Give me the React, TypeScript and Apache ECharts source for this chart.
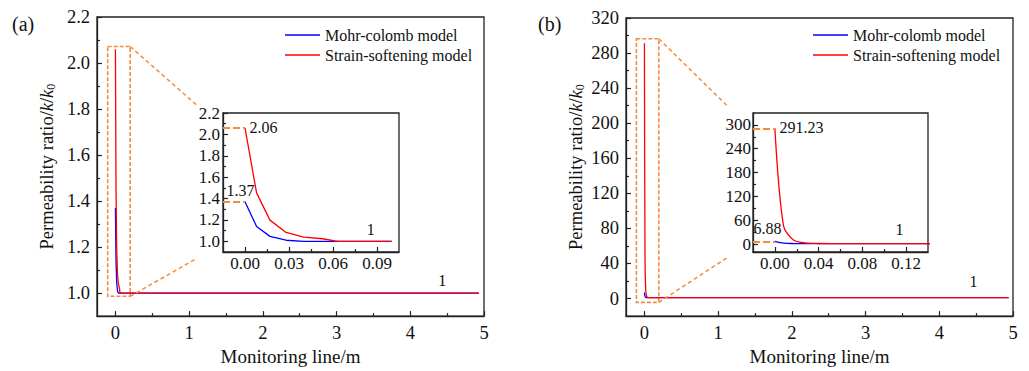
import React, { useEffect, useRef } from "react";
import * as echarts from "echarts";

// ---------------- data ----------------
const SERIES_NAMES = ["Mohr-colomb model", "Strain-softening model"];

const distA = [0, 0.0079, 0.017, 0.028, 0.04, 0.053, 0.063, 0.1, 4.93];
const mohrA = [1.37, 1.138, 1.046, 1.01, 1.0, 1.0, 1.0, 1.0, 1.0];
const softA = [2.06, 1.453, 1.198, 1.083, 1.04, 1.024, 1.0, 1.0, 1.0];

const distB = [0, 0.0079, 0.017, 0.028, 0.04, 0.053, 0.063, 0.1, 4.94];
const mohrB = [6.88, 2.4, 1.3, 1.05, 1.0, 1.0, 1.0, 1.0, 1.0];
const softB = [291.23, 46, 10, 3, 1.4, 1.05, 1.0, 1.0, 1.0];

const insetAMaxDist = 0.1;

// tick values
const mainAYTicks = [1.0, 1.2, 1.4, 1.6, 1.8, 2.0, 2.2];
const mainAYMinor = [1.1, 1.3, 1.5, 1.7, 1.9, 2.1];
const mainXTicks = [0, 1, 2, 3, 4, 5];
const mainXMinor = [0.5, 1.5, 2.5, 3.5, 4.5];
const insetAXTicks = [0, 0.03, 0.06, 0.09];
const insetAXMinor = [0.015, 0.045, 0.075];
const insetAYTicks = [1.0, 1.2, 1.4, 1.6, 1.8, 2.0, 2.2];
const insetAYMinor = [1.1, 1.3, 1.5, 1.7, 1.9, 2.1];
const mainBYTicks = [0, 40, 80, 120, 160, 200, 240, 280, 320];
const mainBYMinor = [20, 60, 100, 140, 180, 220, 260, 300];
const insetBXTicks = [0, 0.04, 0.08, 0.12];
const insetBXMinor = [0.02, 0.06, 0.1];
const insetBYTicks = [0, 60, 120, 180, 240, 300];
const insetBYMinor = [30, 90, 150, 210, 270];

// annotations (data coordinates)
const zoomRectA = [[-0.105, 2.072], [0.2, 0.986]];
const zoomLinksA = [[[0.2, 2.072], [1.11, 1.815]], [[0.2, 0.986], [1.11, 1.152]]];
const zoomRectB = [[-0.109, 296.3], [0.195, -4.4]];
const zoomLinksB = [[[0.195, 296.3], [1.116, 220.4]], [[0.195, -4.4], [1.116, 46.3]]];
const oneLabelMainA = [4.44, 1.052];
const oneLabelMainB = [4.47, 19.3];
const oneLabelInsetA = [0.086, 1.11];
const oneLabelInsetB = [0.1145, 36];

const FONT = "Liberation Serif";
const ORANGE = "#f28b3d";
const AXIS = "#222";
const TXT = "#111";
const BLUE = "#0000ff";
const RED = "#ff0000";

const pairs = (xs: number[], ys: number[], maxX?: number) =>
  xs.map((x, i) => [x, ys[i]]).filter((p) => maxX === undefined || p[0] <= maxX + 1e-9);

function axisPair(
  dim: "x" | "y",
  grid: number,
  min: number,
  max: number,
  majors: number[],
  minors: number[],
  fmt: (v: number) => string,
  fontSize: number,
  margin: number,
  extra: any = {}
) {
  const base = {
    type: "value",
    gridIndex: grid,
    min,
    max,
    position: dim === "x" ? "bottom" : "left",
    splitLine: { show: false },
  };
  const major = {
    ...base,
    axisLine: { show: true, onZero: false, lineStyle: { color: AXIS, width: 1.3 } },
    axisTick: { show: true, inside: true, length: 5, customValues: majors, lineStyle: { color: AXIS, width: 1.2 } },
    axisLabel: {
      customValues: majors,
      formatter: fmt,
      fontSize,
      fontFamily: FONT,
      color: TXT,
      margin,
    },
    ...extra,
  };
  const minor = {
    ...base,
    axisLine: { show: false, onZero: false },
    axisTick: { show: true, inside: true, length: 3, customValues: minors, lineStyle: { color: AXIS, width: 1.2 } },
    axisLabel: { show: false },
  };
  return [major, minor];
}

const yName = {
  name: "Permeability ratio/{i|k}/{i|k}{s|0}",
  nameLocation: "middle",
  nameRotate: 90,
  nameGap: 40,
  nameTextStyle: {
    fontSize: 18.5,
    fontFamily: FONT,
    color: TXT,
    rich: {
      i: { fontStyle: "italic", fontSize: 18.5, fontFamily: FONT, color: TXT },
      s: { fontSize: 12, fontFamily: FONT, color: TXT, padding: [9, 0, 0, 0] },
    },
  },
};
const xName = {
  name: "Monitoring line/m",
  nameLocation: "middle",
  nameGap: 27,
  nameTextStyle: { fontSize: 19, fontFamily: FONT, color: TXT },
};

const f0 = (v: number) => String(Math.round(v));
const f1 = (v: number) => v.toFixed(1);
const f2 = (v: number) => v.toFixed(2);

const xAxes = [
  ...axisPair("x", 0, -0.25, 5, mainXTicks, mainXMinor, f0, 18.5, 7, xName),
  ...axisPair("x", 1, -0.015, 0.105, insetAXTicks, insetAXMinor, f2, 17, 3),
  ...axisPair("x", 2, -0.25, 5, mainXTicks, mainXMinor, f0, 18.5, 7, xName),
  ...axisPair("x", 3, -0.02, 0.14, insetBXTicks, insetBXMinor, f2, 17, 3),
];
const yAxes = [
  ...axisPair("y", 0, 0.9, 2.2, mainAYTicks, mainAYMinor, f1, 18.5, 7, yName),
  ...axisPair("y", 1, 0.9, 2.2, insetAYTicks, insetAYMinor, f1, 17, 3),
  ...axisPair("y", 2, -20, 320, mainBYTicks, mainBYMinor, f0, 18.5, 7, yName),
  ...axisPair("y", 3, -20, 330, insetBYTicks, insetBYMinor, f0, 17, 2),
];

const dashLine = (segs: number[][][], dash: number[], width: number) => ({
  silent: true,
  symbol: ["none", "none"],
  label: { show: false },
  lineStyle: { color: ORANGE, type: dash, width },
  emphasis: { disabled: true },
  data: segs.map((s) => [{ coord: s[0] }, { coord: s[1] }]),
});

const rectArea = (r: number[][]) => ({
  silent: true,
  itemStyle: { color: "transparent", borderColor: ORANGE, borderWidth: 1.6, borderType: [4, 2] },
  label: { show: false },
  data: [[{ coord: r[0] }, { coord: r[1] }]],
});

const textPoint = (coord: number[], text: string, label: any) => ({
  symbol: "circle",
  symbolSize: 1,
  itemStyle: { color: "transparent" },
  coord,
  label: {
    show: true,
    formatter: text,
    fontSize: 16,
    fontFamily: FONT,
    color: TXT,
    ...label,
  },
});

const markPts = (items: any[]) => ({ silent: true, data: items });

const lineSeries = (name: string, color: string, data: number[][], axis: number, extra: any = {}) => ({
  type: "line",
  name,
  data,
  xAxisIndex: axis,
  yAxisIndex: axis,
  symbol: "none",
  showSymbol: false,
  lineStyle: { color, width: 1.3 },
  itemStyle: { color },
  ...extra,
});

const centered = { position: [0, 0], align: "center", verticalAlign: "middle" };

const series = [
  // (a) main
  lineSeries(SERIES_NAMES[0], BLUE, pairs(distA, mohrA), 0),
  lineSeries(SERIES_NAMES[1], RED, pairs(distA, softA), 0, {
    markArea: rectArea(zoomRectA),
    markLine: dashLine(zoomLinksA, [4, 3], 1.5),
    markPoint: markPts([textPoint(oneLabelMainA, "1", centered)]),
  }),
  // (a) inset
  lineSeries(SERIES_NAMES[0], BLUE, pairs(distA, mohrA, insetAMaxDist), 2, {
    markLine: dashLine([[[-0.015, mohrA[0]], [distA[0], mohrA[0]]]], [7, 3], 2),
    markPoint: markPts([
      textPoint([distA[0], mohrA[0]], String(mohrA[0]), { position: [-4, -11], align: "center", verticalAlign: "middle" }),
    ]),
  }),
  lineSeries(SERIES_NAMES[1], RED, pairs(distA, softA, insetAMaxDist), 2, {
    markLine: dashLine([[[-0.015, softA[0]], [distA[0], softA[0]]]], [7, 3], 2),
    markPoint: markPts([
      textPoint([distA[0], softA[0]], String(softA[0]), { position: [5, 0], align: "left", verticalAlign: "middle" }),
      textPoint(oneLabelInsetA, "1", centered),
    ]),
  }),
  // (b) main
  lineSeries(SERIES_NAMES[0], BLUE, pairs(distB, mohrB), 4, { smooth: 0.3 }),
  lineSeries(SERIES_NAMES[1], RED, pairs(distB, softB), 4, {
    smooth: 0.3,
    markArea: rectArea(zoomRectB),
    markLine: dashLine(zoomLinksB, [4, 3], 1.5),
    markPoint: markPts([textPoint(oneLabelMainB, "1", centered)]),
  }),
  // (b) inset
  lineSeries(SERIES_NAMES[0], BLUE, pairs(distB, mohrB), 6, {
    smooth: 0.3,
    markLine: dashLine([[[-0.02, mohrB[0]], [distB[0], mohrB[0]]]], [7, 3], 2),
    markPoint: markPts([
      textPoint([distB[0], mohrB[0]], String(mohrB[0]), { position: [-7, -12], align: "center", verticalAlign: "middle" }),
    ]),
  }),
  lineSeries(SERIES_NAMES[1], RED, pairs(distB, softB), 6, {
    smooth: 0.3,
    markLine: dashLine([[[-0.02, softB[0]], [distB[0], softB[0]]]], [7, 3], 2),
    markPoint: markPts([
      textPoint([distB[0], softB[0]], String(softB[0]), { position: [5, 0], align: "left", verticalAlign: "middle" }),
      textPoint(oneLabelInsetB, "1", centered),
    ]),
  }),
];

const gridStyle = { show: true, borderColor: AXIS, borderWidth: 1.3, backgroundColor: "transparent" };

const legendBase = {
  orient: "vertical",
  top: 22,
  itemWidth: 35,
  itemHeight: 1.5,
  itemGap: 4,
  icon: "rect",
  data: SERIES_NAMES.map((n) => ({ name: n, icon: "rect" })),
  textStyle: { fontSize: 16, fontFamily: FONT, color: TXT, lineHeight: 16 },
};

const option = {
  animation: false,
  backgroundColor: "#fff",
  textStyle: { fontFamily: FONT },
  grid: [
    { ...gridStyle, left: 97, top: 17, width: 387, height: 308 },
    { ...gridStyle, left: 223, top: 113, width: 176, height: 139 },
    { ...gridStyle, left: 626, top: 18, width: 387, height: 307 },
    { ...gridStyle, left: 753, top: 113, width: 175, height: 139 },
  ],
  legend: [
    { ...legendBase, left: 280 },
    { ...legendBase, left: 808 },
  ],
  xAxis: xAxes,
  yAxis: yAxes,
  series,
  graphic: [
    { type: "text", left: 12, top: 14, style: { text: "(a)", fontSize: 20, fontFamily: FONT, fill: TXT } },
    { type: "text", left: 538, top: 14, style: { text: "(b)", fontSize: 20, fontFamily: FONT, fill: TXT } },
  ],
};

export default function App() {
  const ref = useRef<HTMLDivElement>(null);
  useEffect(() => {
    const chart = echarts.init(ref.current as HTMLDivElement, null, { renderer: "svg" });
    chart.setOption(option as any);
    return () => chart.dispose();
  }, []);
  return (
    <div
      ref={ref}
      style={{ position: "absolute", left: 0, top: 0, width: 1029, height: 371, background: "#fff" }}
    />
  );
}
